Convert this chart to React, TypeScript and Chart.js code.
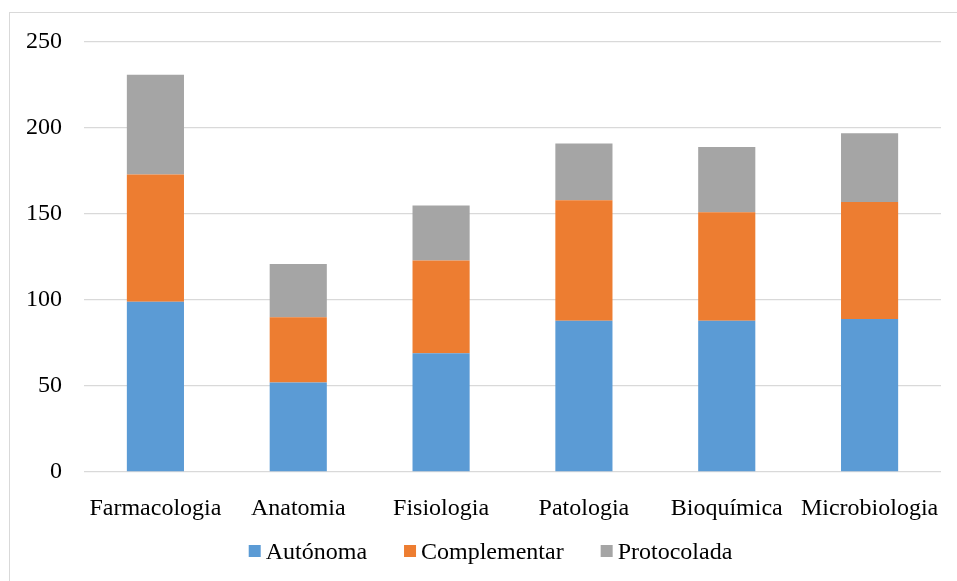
import { useEffect, useRef } from "react";
import { Chart, registerables } from "chart.js";
import type { Plugin } from "chart.js";

Chart.register(...registerables);

// Subjects on the category axis
const categories = ["Farmacologia", "Anatomia", "Fisiologia", "Patologia", "Bioquímica", "Microbiologia"];

// Stacked series values
const autonoma = [99, 52, 69, 88, 88, 89];
const complementar = [74, 38, 54, 70, 63, 68];
const protocolada = [58, 31, 32, 33, 38, 40];

const seriesNames = ["Autónoma", "Complementar", "Protocolada"];
const seriesColors = ["#5B9BD5", "#ED7D31", "#A5A5A5"];

// Value axis
const yMin = 0;
const yMax = 250;
const yStep = 50;

const FONT_FAMILY = "'Liberation Serif', 'Times New Roman', serif";
const FONT_SIZE = 24;

// Legend drawn under the axis: small square swatch followed by the label
const bottomLegend: Plugin<"bar"> = {
  id: "bottomLegend",
  afterDraw(chart) {
    const ctx = chart.ctx;
    ctx.save();
    ctx.font = `${FONT_SIZE}px ${FONT_FAMILY}`;
    const box = 12;
    const gap = 5;
    const spacing = 37;
    const items = chart.data.datasets.map((ds) => {
      const label = String(ds.label);
      return { label, color: String(ds.backgroundColor), w: ctx.measureText(label).width };
    });
    const total =
      items.reduce((s, it) => s + box + gap + it.w, 0) + spacing * (items.length - 1);
    let x = 490.5 - total / 2;
    const baseline = 559;
    ctx.textAlign = "left";
    ctx.textBaseline = "alphabetic";
    for (const it of items) {
      ctx.fillStyle = it.color;
      ctx.fillRect(x, baseline - 14, box, box);
      ctx.fillStyle = "#000000";
      ctx.fillText(it.label, x + box + gap, baseline);
      x += box + gap + it.w + spacing;
    }
    ctx.restore();
  },
};

export default function App() {
  const canvasRef = useRef<HTMLCanvasElement | null>(null);

  useEffect(() => {
    const canvas = canvasRef.current;
    if (!canvas) return;
    const seriesData = [autonoma, complementar, protocolada];
    const chart = new Chart(canvas, {
      type: "bar",
      data: {
        labels: categories,
        datasets: seriesNames.map((name, i) => ({
          label: name,
          data: seriesData[i],
          backgroundColor: seriesColors[i],
          borderWidth: 0,
          categoryPercentage: 1,
          barPercentage: 0.4,
        })),
      },
      options: {
        animation: false,
        responsive: false,
        devicePixelRatio: 1,
        layout: { padding: { left: 0, right: 16, top: 42, bottom: 49 } },
        plugins: {
          legend: { display: false },
          tooltip: { enabled: false },
        },
        scales: {
          x: {
            stacked: true,
            grid: { display: false },
            border: { display: false },
            ticks: {
              color: "#000000",
              padding: 14,
              maxRotation: 0,
              autoSkip: false,
              font: { family: FONT_FAMILY, size: FONT_SIZE },
            },
            afterFit(scale) {
              scale.height = 60;
            },
          },
          y: {
            stacked: true,
            min: yMin,
            max: yMax,
            grid: { color: "#D9D9D9", lineWidth: 1.3, drawTicks: false },
            border: { display: false },
            ticks: {
              stepSize: yStep,
              color: "#000000",
              padding: 22,
              font: { family: FONT_FAMILY, size: FONT_SIZE },
            },
            afterFit(scale) {
              scale.width = 84;
            },
          },
        },
      },
      plugins: [bottomLegend],
    });
    return () => chart.destroy();
  }, []);

  return (
    <div
      style={{
        position: "fixed",
        left: 0,
        top: 0,
        width: 957,
        height: 581,
        overflow: "hidden",
        background: "#ffffff",
      }}
    >
      <div
        style={{
          position: "absolute",
          left: 9,
          top: 12,
          width: 1000,
          height: 1000,
          borderLeft: "1px solid #D9D9D9",
          borderTop: "1px solid #D9D9D9",
        }}
      />
      <canvas
        ref={canvasRef}
        width={957}
        height={581}
        style={{ position: "absolute", left: 0, top: 0, width: 957, height: 581 }}
      />
    </div>
  );
}
